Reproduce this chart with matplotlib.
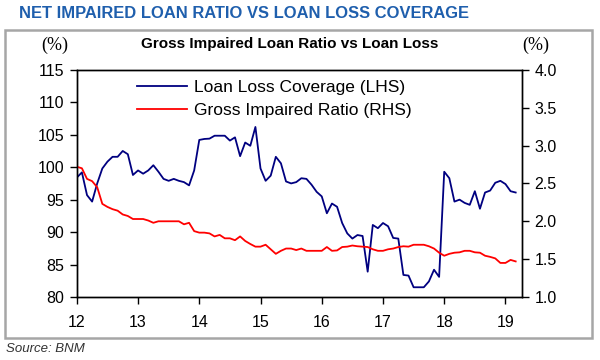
import matplotlib.pyplot as plt
import matplotlib.patches as mpatches
import numpy as np

# monthly data, Jan 2012 - Mar 2019
loan_loss = [98.4, 99.2, 95.7, 94.7, 97.5, 99.8, 100.85, 101.6, 101.6, 102.5, 102.0, 98.8,
             99.5, 99.0, 99.5, 100.3, 99.3, 98.2, 97.9, 98.2, 97.9, 97.7, 97.2, 99.5,
             104.2, 104.35, 104.4, 104.85, 104.85, 104.85, 104.1, 104.6, 101.7, 103.8, 103.3, 106.2,
             99.8, 97.9, 98.7, 101.6, 100.6, 97.8, 97.5, 97.7, 98.3, 98.2, 97.3, 96.2,
             95.5, 92.9, 94.4, 93.9, 91.4, 89.8, 89.0, 89.55, 89.4, 83.9, 91.1, 90.6,
             91.4, 90.9, 89.1, 89.0, 83.4, 83.3, 81.5, 81.5, 81.5, 82.4, 84.2, 83.1,
             99.3, 98.3, 94.7, 95.0, 94.5, 94.2, 96.3, 93.6, 96.1, 96.4, 97.6, 97.9,
             97.4, 96.3, 96.1]
gross_impaired = [2.72, 2.70, 2.56, 2.53, 2.45, 2.23, 2.19, 2.16, 2.14, 2.09, 2.07, 2.03,
                  2.03, 2.03, 2.01, 1.98, 2.00, 2.00, 2.00, 2.00, 2.00, 1.96, 1.98, 1.87,
                  1.85, 1.85, 1.84, 1.80, 1.82, 1.775, 1.775, 1.75, 1.80, 1.74, 1.70, 1.665,
                  1.665, 1.69, 1.63, 1.57, 1.61, 1.64, 1.64, 1.62, 1.64, 1.61, 1.61, 1.61,
                  1.61, 1.66, 1.61, 1.615, 1.66, 1.665, 1.68, 1.67, 1.665, 1.66, 1.63, 1.61,
                  1.61, 1.63, 1.64, 1.66, 1.67, 1.665, 1.69, 1.69, 1.69, 1.67, 1.64, 1.585,
                  1.545, 1.57, 1.585, 1.59, 1.61, 1.61, 1.59, 1.585, 1.545, 1.53, 1.51, 1.45,
                  1.45, 1.49, 1.47]
x = [12 + i / 12 for i in range(len(loan_loss))]
years = [12, 13, 14, 15, 16, 17, 18, 19]

plt.rcParams['font.family'] = ['Liberation Sans', 'DejaVu Sans']

fig = plt.figure(figsize=(6, 3.6), dpi=100)
ax = fig.add_axes([0.128, 0.175, 0.742, 0.631])
ax2 = ax.twinx()

l1, = ax.plot(x, loan_loss, color='#000080', lw=1.3, label='Loan Loss Coverage (LHS)')
l2, = ax2.plot(x, gross_impaired, color='#ff0000', lw=1.3, label='Gross Impaired Ratio (RHS)')

ax.set_xlim(12, 19.27)
ax.set_ylim(80, 115)
ax2.set_ylim(1.0, 4.0)
ax.set_xticks(years)
ax.set_xticklabels([str(y) for y in years])
ax.set_yticks(np.arange(80, 116, 5))
ax2.set_yticks(np.arange(1.0, 4.01, 0.5))
ax2.set_yticklabels(['%.1f' % v for v in np.arange(1.0, 4.01, 0.5)])

ax.tick_params(axis='both', direction='out', length=5, width=1, labelsize=11.5, pad=4)
ax.tick_params(axis='x', pad=8)
ax2.tick_params(axis='y', direction='out', length=5, width=1, labelsize=11.5, pad=4)
for a in (ax, ax2):
    for s in a.spines.values():
        s.set_linewidth(1)
        s.set_color('black')

ax.legend(handles=[l1, l2], loc='upper left', bbox_to_anchor=(0.1, 1.025), frameon=False,
          fontsize=12.5, handlelength=2.9, handletextpad=0.4, labelspacing=0.45)

# outer frame
fig.patches.append(mpatches.Rectangle((0.009, 0.062), 0.978, 0.855, transform=fig.transFigure,
                                      fill=False, edgecolor='#a6a6a6', lw=1.8))

fig.text(0.032, 0.963, 'NET IMPAIRED LOAN RATIO VS LOAN LOSS COVERAGE', color='#1f5fad',
         fontsize=11.9, fontweight='bold', va='center', ha='left')
fig.text(0.483, 0.878, 'Gross Impaired Loan Ratio vs Loan Loss', fontsize=11, fontweight='bold',
         ha='center', va='center')
fig.text(0.092, 0.874, '(%)', fontsize=13, ha='center', va='center', family=['Liberation Serif', 'DejaVu Serif'])
fig.text(0.893, 0.874, '(%)', fontsize=13, ha='center', va='center', family=['Liberation Serif', 'DejaVu Serif'])
fig.text(0.01, 0.03, 'Source: BNM', fontsize=9.5, style='italic', color='#333333', ha='left', va='center')

fig.savefig('out.png', dpi=100)
